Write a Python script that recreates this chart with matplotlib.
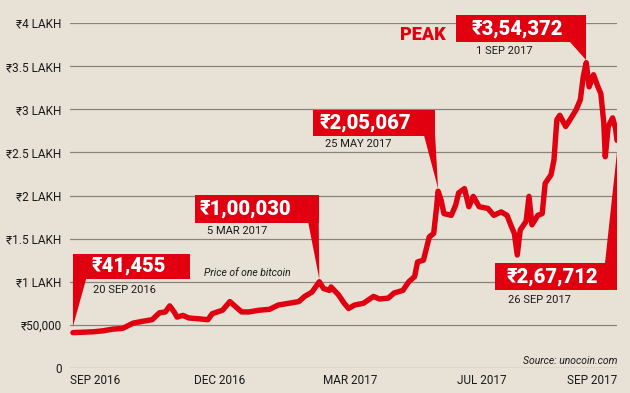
import numpy as np
import matplotlib
matplotlib.use('Agg')
import matplotlib.pyplot as plt
from matplotlib.patches import Polygon

# DATA
# ----
# days counted from 20 Sep 2016, price of one bitcoin in lakh rupees
days = [0, 14, 20, 27, 34, 41, 47, 54, 59, 63, 66, 69, 71, 75, 79, 86,
        92, 95, 102, 107, 111, 115, 120, 127, 134, 140, 147, 154, 158, 163, 168, 171, 175,
        176, 181, 185, 188, 192, 198, 205, 209, 215, 219, 225, 229, 233, 235, 239, 243, 246,
        248, 249, 251, 253, 258, 261, 263,
        267, 270, 273, 277, 283, 287, 292, 296, 299, 301, 303, 305, 309, 311, 313, 317, 320,
        322, 326, 328, 330, 332, 336, 339, 343, 346, 348, 350, 352, 355, 358, 360, 362, 363,
        365, 368, 370, 371]
price = [0.41, 0.42, 0.43, 0.45, 0.46, 0.52, 0.54, 0.56, 0.64, 0.65, 0.72, 0.65, 0.59, 0.61, 0.58, 0.57,
         0.56, 0.63, 0.67, 0.77, 0.71, 0.65, 0.65, 0.67, 0.68, 0.73, 0.75, 0.77, 0.83, 0.88, 1.00, 0.92, 0.90,
         0.94, 0.85, 0.75, 0.69, 0.73, 0.75, 0.83, 0.80, 0.81, 0.87, 0.90, 1.00, 1.06, 1.23, 1.25, 1.52, 1.56,
         1.87, 2.05, 1.95, 1.79, 1.77, 1.89, 2.03,
         2.08, 1.87, 1.99, 1.87, 1.85, 1.77, 1.81, 1.77, 1.64, 1.56, 1.31, 1.60, 1.70, 1.99, 1.66, 1.77, 1.79,
         2.14, 2.24, 2.41, 2.88, 2.93, 2.80, 2.88, 2.99, 3.11, 3.38, 3.54, 3.26, 3.40, 3.26, 3.18, 2.84, 2.45,
         2.80, 2.90, 2.78, 2.64]

y_ticks = [0, 0.5, 1, 1.5, 2, 2.5, 3, 3.5, 4]
y_labels = ['0', '₹50,000', '₹1 LAKH', '₹1.5 LAKH', '₹2 LAKH', '₹2.5 LAKH', '₹3 LAKH', '₹3.5 LAKH', '₹4 LAKH']
x_ticks = [-2, 100, 189, 279, 371]
x_labels = ['SEP 2016', 'DEC 2016', 'MAR 2017', 'JUL 2017', 'SEP 2017']

callout_values = ['₹41,455', '₹1,00,030', '₹2,05,067', '₹3,54,372', '₹2,67,712']
callout_dates = ['20 SEP 2016', '5 MAR 2017', '25 MAY 2017', '1 SEP 2017', '26 SEP 2017']
callout_days = [0, 168, 249, 350, 371]

# STYLE
# -----
BG = '#e7e1d6'
RED = '#e0000f'
GRID = '#8a847c'
INK = '#1a1a1a'
FONT = ['Roboto', 'DejaVu Sans']

plt.rcParams['font.family'] = FONT

# box layout per callout: box (x0, x1, y0, y1), wedge base (xa, xb, yb), tip offset, text anchors
layouts = [
    dict(box=(0, 80, 1.032, 1.322), wedge=(0, 9, 1.032), tip_dy=0.07,
         vt=(12.5, 1.18), dt=(13.6, 0.90)),
    dict(box=(83.4, 167.6, 1.681, 2.006), wedge=(160.5, 167.6, 1.681), tip_dy=0.03,
         vt=(86.5, 1.845), dt=(91.6, 1.59)),
    dict(box=(164, 247, 2.69, 2.991), wedge=(239.5, 247, 2.69), tip_dy=0.03,
         vt=(168, 2.84), dt=(172, 2.60)),
    dict(box=(261, 350, 3.78, 4.093), wedge=(339, 350, 3.78), tip_dy=0.03,
         vt=(272, 3.93), dt=(274.8, 3.675)),
    dict(box=(288, 371, 0.904, 1.217), wedge=(363, 371, 1.217), tip_dy=-0.14,
         vt=(295.5, 1.055), dt=(296.5, 0.79)),
]

fig = plt.figure(figsize=(6.3, 3.93), dpi=100, facecolor=BG)
ax = fig.add_axes([70 / 630, 1 - 368 / 393, 547 / 630, 345 / 393])
ax.set_facecolor(BG)

ax.set_xlim(0, 371)
ax.set_ylim(0, 4)
for s in ax.spines.values():
    s.set_visible(False)

ax.set_yticks(y_ticks)
ax.set_yticklabels(y_labels)
ax.yaxis.grid(True, color=GRID, lw=0.9)
ax.set_axisbelow(True)
ax.set_xticks(x_ticks)
ax.set_xticklabels(x_labels)
ax.tick_params(axis='y', length=0, pad=6, labelsize=8.5, labelcolor=INK)
ax.tick_params(axis='x', length=0, pad=4, labelsize=8.5, labelcolor=INK)
xl = ax.get_xticklabels()
xl[0].set_ha('left')
xl[-1].set_ha('right')

ax.plot(days, price, color=RED, lw=3.9, solid_joinstyle='round', solid_capstyle='round', zorder=3)

# callouts
for val, date, d, lay in zip(callout_values, callout_dates, callout_days, layouts):
    x0, x1, y0, y1 = lay['box']
    ax.add_patch(Polygon([(x0, y0), (x1, y0), (x1, y1), (x0, y1)], closed=True,
                         fc=RED, ec='none', clip_on=False, zorder=4))
    xa, xb, yb = lay['wedge']
    tip = (d, price[days.index(d)] + lay['tip_dy'])
    ax.add_patch(Polygon([(xa, yb), (xb, yb), tip], closed=True,
                         fc=RED, ec='none', clip_on=False, zorder=4))
    ax.text(*lay['vt'], val, color='white', fontsize=14.5, fontweight='black',
            va='center', ha='left', zorder=5)
    ax.text(*lay['dt'], date, color=INK, fontsize=8, va='center', ha='left', zorder=5)

ax.text(254, 3.86, 'PEAK', color=RED, fontsize=13, fontweight='black', ha='right', va='center')
ax.text(89.5, 1.10, 'Price of one bitcoin', fontsize=7.5, style='italic', color=INK,
        ha='left', va='center')
ax.text(371, 0.08, 'Source: unocoin.com', fontsize=7.5, style='italic', color=INK,
        ha='right', va='center')

fig.savefig('out.png', dpi=100, facecolor=BG)
